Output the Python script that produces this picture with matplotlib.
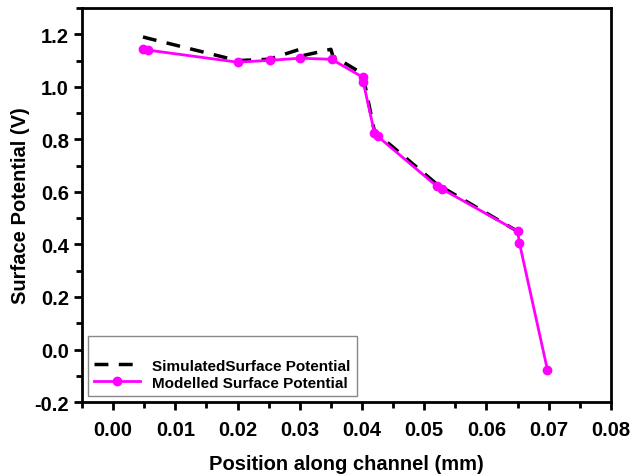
import matplotlib.pyplot as plt
from matplotlib.ticker import MultipleLocator, FormatStrFormatter

plt.rcParams['font.family'] = ['Liberation Sans', 'DejaVu Sans']
plt.rcParams['font.weight'] = 'bold'

# Simulated surface potential (dashed black)
sim_x = [0.0048, 0.0056, 0.020, 0.025, 0.0300, 0.0303, 0.0350, 0.0353, 0.0401, 0.0420, 0.0520, 0.0650]
sim_y = [1.190, 1.185, 1.100, 1.105, 1.143, 1.118, 1.143, 1.118, 1.050, 0.830, 0.630, 0.450]

# Modelled surface potential (magenta with markers)
mod_x = [0.0048, 0.0056, 0.0200, 0.0252, 0.0300, 0.0351, 0.0401, 0.0402, 0.0420, 0.0425,
         0.0520, 0.0528, 0.0650, 0.0653, 0.0698]
mod_y = [1.143, 1.140, 1.094, 1.101, 1.109, 1.105, 1.037, 1.018, 0.825, 0.812,
         0.622, 0.612, 0.450, 0.405, -0.078]

fig = plt.figure(figsize=(6.32, 4.77), dpi=100)
ax = fig.add_axes([0.1297, 0.155, 0.837, 0.826])

ax.plot(sim_x, sim_y, color='black', linestyle=(0, (4, 3)), linewidth=2.5,
        label='SimulatedSurface Potential')
ax.plot(mod_x, mod_y, color='#ff00ff', linewidth=2, marker='o', markersize=6,
        label='Modelled Surface Potential')

ax.set_xlim(-0.005, 0.08)
ax.set_ylim(-0.2, 1.3)
ax.xaxis.set_major_locator(MultipleLocator(0.01))
ax.xaxis.set_minor_locator(MultipleLocator(0.005))
ax.yaxis.set_major_locator(MultipleLocator(0.2))
ax.yaxis.set_minor_locator(MultipleLocator(0.1))
ax.xaxis.set_major_formatter(FormatStrFormatter('%.2f'))
ax.yaxis.set_major_formatter(FormatStrFormatter('%.1f'))

ax.tick_params(which='major', direction='out', length=6, width=2, labelsize=14.5)
ax.tick_params(axis='x', which='major', pad=7)
ax.tick_params(which='minor', direction='out', length=4, width=2)
for s in ax.spines.values():
    s.set_linewidth(2)

ax.set_xlabel('Position along channel (mm)', fontsize=14.5, fontweight='bold', labelpad=11)
ax.set_ylabel('Surface Potential (V)', fontsize=14.5, fontweight='bold', labelpad=3)

leg = ax.legend(loc='lower left', title=' ', fontsize=11, title_fontsize=11,
                fancybox=False, edgecolor='#888888', framealpha=1, handlelength=3,
                borderaxespad=0.4, labelspacing=0.2, bbox_to_anchor=(0.0, 0.0))
leg.get_frame().set_linewidth(1)

plt.savefig('out.png', dpi=100)
